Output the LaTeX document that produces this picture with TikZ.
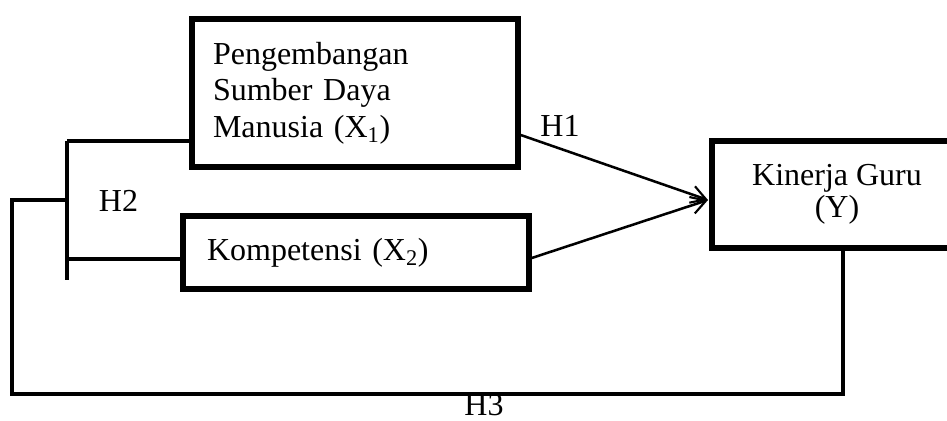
\documentclass[tikz,border=0pt]{standalone}
\usepackage{fontspec}
\setmainfont{Liberation Serif}
\usetikzlibrary{arrows.meta}
\begin{document}
\begin{tikzpicture}[x=0.75pt,y=-0.75pt,
  box/.style={draw, line width=4.1pt, inner sep=0pt, font=\fontsize{24}{27.4}\selectfont},
  conn/.style={line width=2.3pt},
  arr/.style={line width=1.9pt, -{Straight Barb[length=11pt,width=13pt,line width=1.6pt]}},
  lab/.style={font=\fontsize{24}{27}\selectfont, inner sep=0pt}]
\useasboundingbox (0,0) rectangle (947,421);
\node[box, minimum width=244.5pt, minimum height=111pt, text width=213pt, align=left] (X1) at (355,93)
  {Pengembangan\\Sumber Daya\\Manusia (X\textsubscript{1})};
\node[box, minimum width=259.5pt, minimum height=54.75pt, text width=223.5pt, align=left] (X2) at (356,252.5)
  {Kompetensi (X\textsubscript{2})};
\node[box, minimum width=187.5pt, minimum height=80.25pt, align=center, font=\fontsize{24}{24}\selectfont] (Y) at (837,194.5)
  {Kinerja Guru\\(Y)};
\coordinate (bt) at (67,141);
\coordinate (bb) at (67,280);
\coordinate (bm) at (67,200);
\coordinate (ll) at (12,200);
\coordinate (lb) at (12,394);
\coordinate (rb) at (843,394);
\coordinate (tip) at (708,200);
\draw[conn] (bt) -- (bb);
\draw[conn] (bt) -- (X1.west |- bt);
\draw[conn] (67,259) -- (X2.west |- 0,259);
\draw[conn, line join=miter] (bm) -- (ll) -- (lb) -- (rb) -- (rb |- Y.south);
\draw[arr] (X1.east |- 0,135) -- (tip);
\draw[arr] (X2.east |- 0,258) -- (tip);
\node[lab] (H1) at (560,126) {H1};
\node[lab] (H2) at (118.5,200.5) {H2};
\node[lab] (H3) at (484,405) {H3};
\end{tikzpicture}
\end{document}
